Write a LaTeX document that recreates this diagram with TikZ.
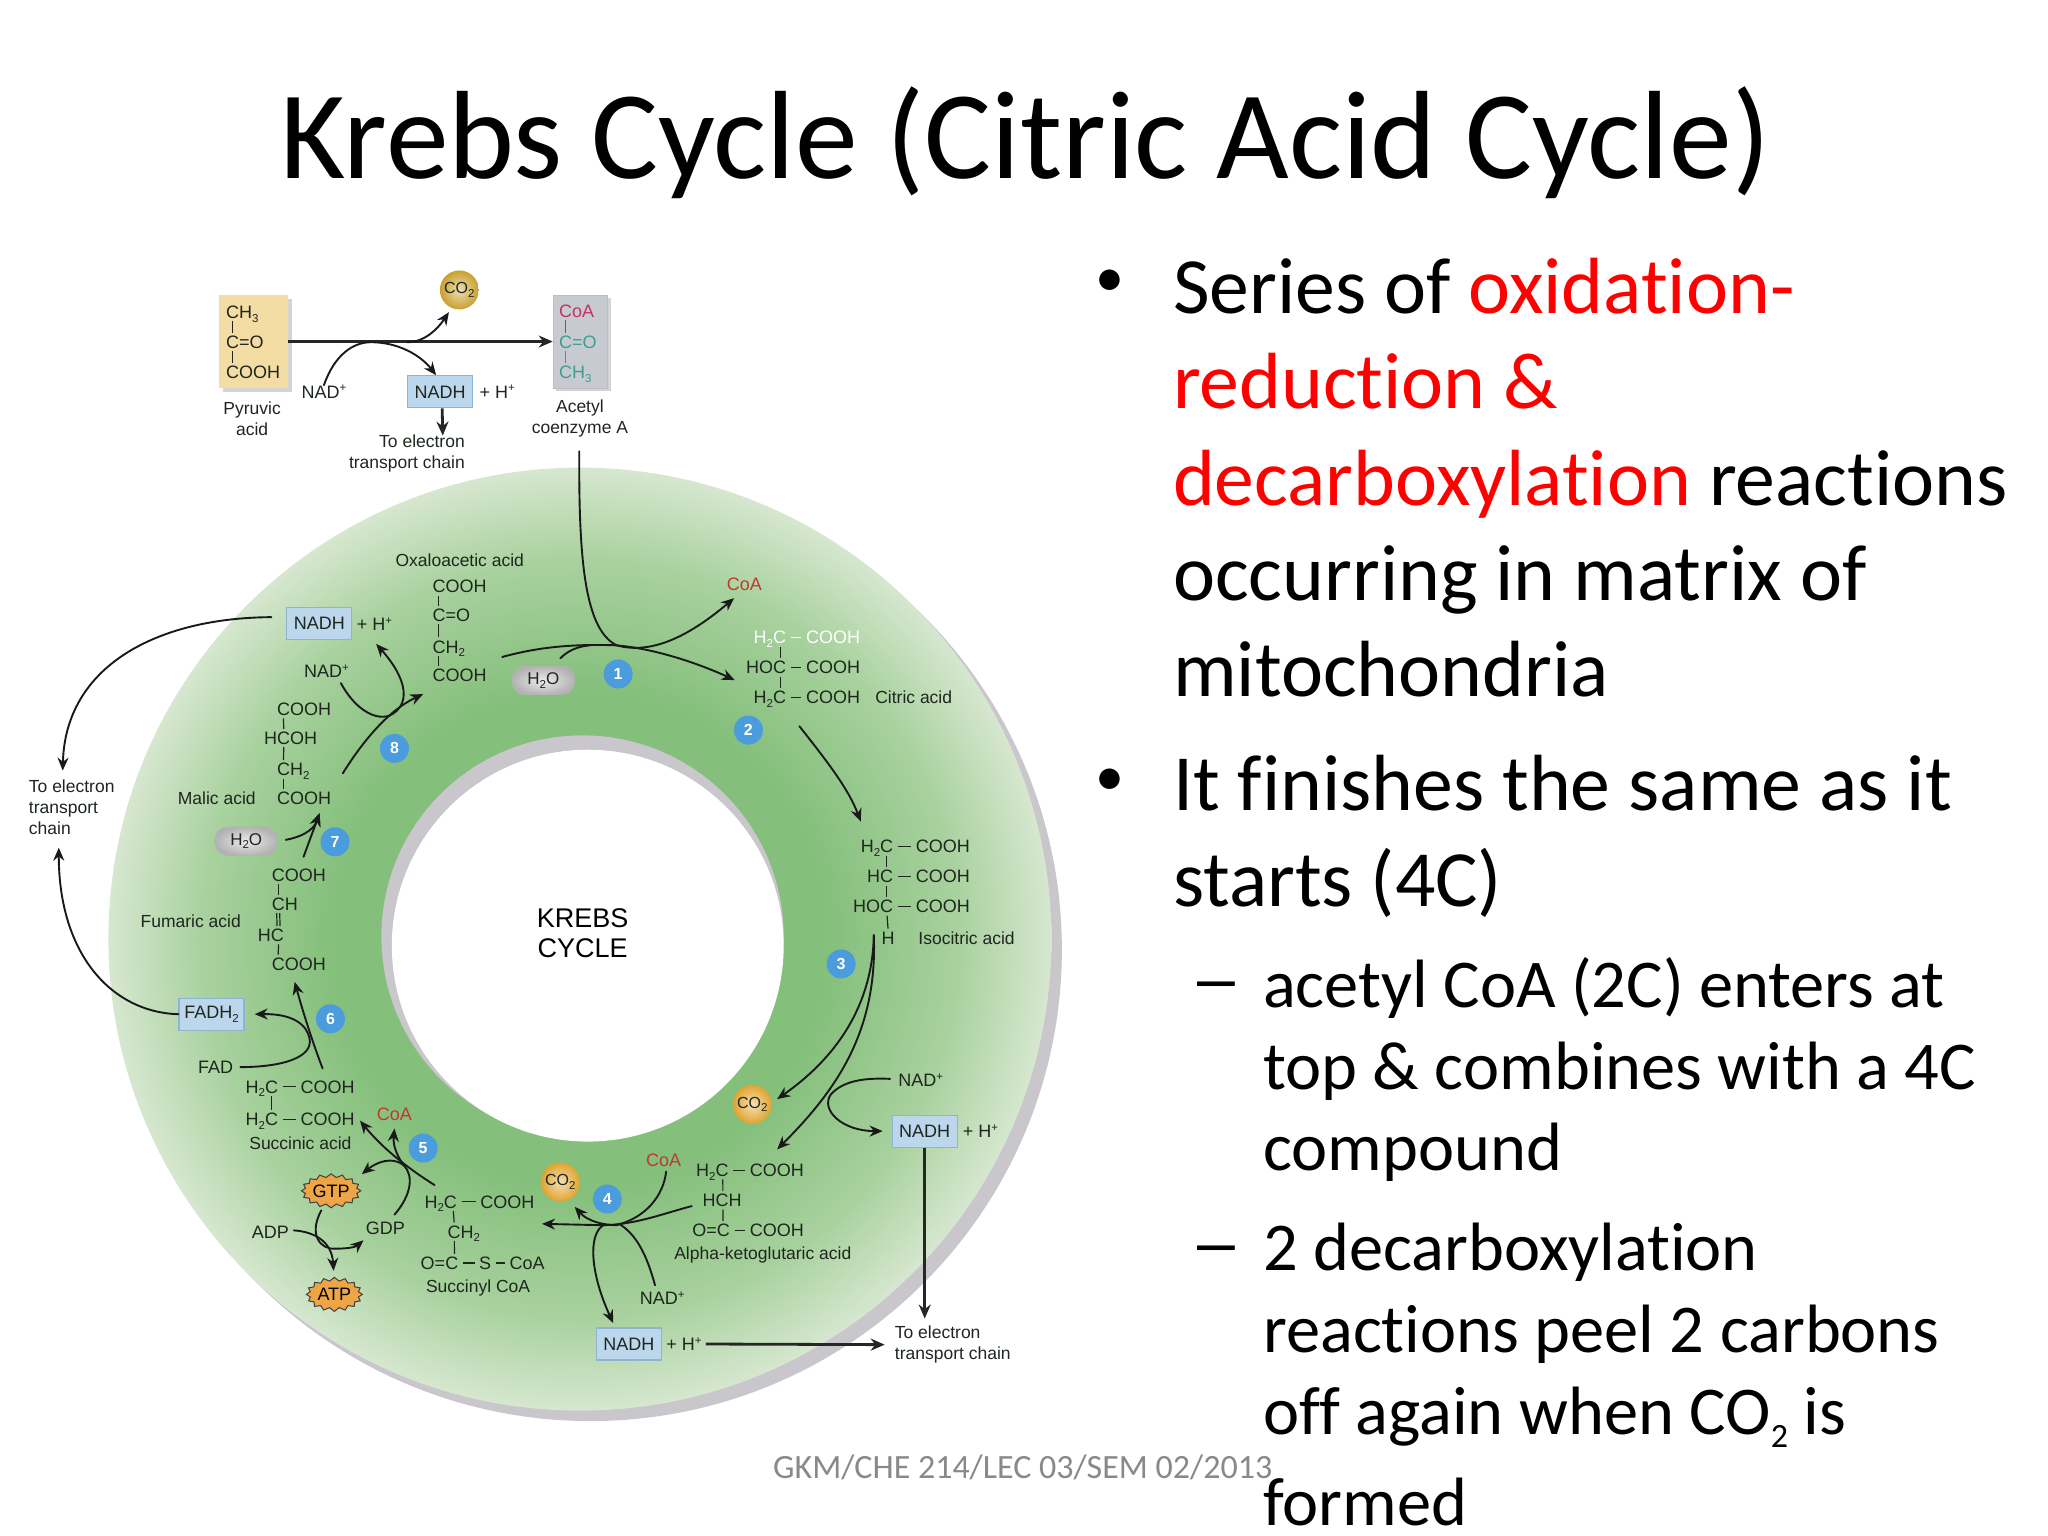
\documentclass[tikz,border=0pt]{standalone}
\usepackage{fontspec}
\setmainfont{Carlito}[Ligatures=NoCommon]
\newfontfamily\dia{Liberation Sans}
\usetikzlibrary{arrows.meta,shapes.symbols,shapes.geometric}
\definecolor{ringdark}{HTML}{84BF7B}
\definecolor{ringmid}{HTML}{A8D19E}
\definecolor{ringlight}{HTML}{D6E7CF}
\definecolor{ringgrey}{HTML}{C9C6CC}
\definecolor{dtext}{HTML}{1E261E}
\definecolor{boxblue}{HTML}{BCD6EC}
\definecolor{boxedge}{HTML}{8FB4D2}
\definecolor{numblue}{HTML}{4A9CDC}
\definecolor{coared}{HTML}{C0392B}
\definecolor{crimson}{HTML}{C2326A}
\definecolor{teal2}{HTML}{3E9E8C}
\definecolor{wheat2}{HTML}{F3DDA4}
\definecolor{greybox}{HTML}{C8CAD2}
\definecolor{shadow2}{HTML}{D4D4D4}
\definecolor{burst}{HTML}{EDA548}
\definecolor{foot}{HTML}{898989}
\definecolor{bodyred}{HTML}{FF0000}
\definecolor{goldA}{HTML}{C9A02E}
\definecolor{goldB}{HTML}{E0A42E}
\pgfdeclareradialshading{ringshade}{\pgfpoint{0bp}{0bp}}{color(0bp)=(ringdark); color(13bp)=(ringdark); color(20bp)=(ringmid); color(25bp)=(ringlight); color(50bp)=(ringlight)}
\newcommand\tsb[1]{{\fontsize{11.5}{11.5}\selectfont\raisebox{-3.5pt}{#1}}}
\newcommand\tsp[1]{{\fontsize{11.5}{11.5}\selectfont\raisebox{6.5pt}{#1}}}
\newcommand\chemf{\dia\fontsize{18}{20}\selectfont}
\newcommand\labf{\dia\fontsize{17.5}{21}\selectfont}
\newcommand\vbW[3][6.5pt]{\draw[bondl] ([xshift=#1]#2.south west) -- ([xshift=#1]#3.north west);}
\newcommand\vbE[3][-6.5pt]{\draw[bondl] ([xshift=#1]#2.south east) -- ([xshift=#1]#3.north east);}
\newcommand\hb[2]{\draw[bondl,shorten >=4.5pt,shorten <=4.5pt] (#1.east) -- (#2.west);}
\tikzset{
  x=1.30612pt,y=-1.30612pt,
  chemW/.style={font=\chemf,text=dtext,inner sep=0pt,anchor=west,text height=13pt,text depth=0pt},
  chemE/.style={font=\chemf,text=dtext,inner sep=0pt,anchor=east,text height=13pt,text depth=0pt},
  lab/.style={font=\labf,text=dtext,inner sep=0pt,align=center},
  bondl/.style={line width=1.2pt,draw=dtext,shorten >=2.5pt,shorten <=2.5pt},
  flow/.style={line width=1.9pt,draw=black!90,line cap=round},
  arr/.style={flow,-{Stealth[length=13pt,width=11pt]}},
  thickarr/.style={line width=2.8pt,draw=black!85,-{Stealth[length=14pt,width=12pt]}},
  bluebox/.style={draw=boxedge,line width=1.2pt,fill=boxblue,minimum width=65pt,minimum height=32pt,inner sep=0pt,font=\chemf,text=dtext},
  numb/.style={circle,fill=numblue,minimum size=29pt,inner sep=0pt,text=white,font=\dia\bfseries\fontsize{16}{16}\selectfont},
  goldball/.style={circle,minimum size=39pt,inner sep=0pt,shading=radial,inner color=#1!35!white,outer color=#1,font=\dia\fontsize{16}{16}\selectfont,text=dtext},
  pill/.style={rectangle,rounded corners=13pt,minimum width=63pt,minimum height=29pt,inner sep=0pt,shading=radial,inner color=white!92!black,outer color=black!30,font=\dia\fontsize{17}{17}\selectfont,text=dtext},
  burstn/.style={starburst,starburst points=16,starburst point height=3.5pt,random starburst=0,draw=black!75,line width=1pt,fill=burst,inner sep=0pt,minimum width=56pt,minimum height=34pt,font=\dia\fontsize{18}{18}\selectfont,text=black},
  bodyl/.style={inner sep=0pt,anchor=base west,font=\fontsize{79.7}{80}\selectfont,text=black},
  subl/.style={inner sep=0pt,anchor=base west,font=\fontsize{68.4}{69}\selectfont,text=black},
  bullt/.style={inner sep=0pt,anchor=base,font=\fontsize{58}{58}\selectfont,text=black},
  dasht/.style={inner sep=0pt,anchor=base west,font=\dia\fontsize{68}{68}\selectfont,text=black},
}
\begin{document}
\begin{tikzpicture}
\useasboundingbox (0,0) rectangle (1568,1176);
% ring
\fill[ringgrey] (452,727) circle [radius=361];
\shade[shading=ringshade] (444,719) circle [radius=361];
\fill[ringgrey] (446,717) circle [radius=154];
\fill[white] (450,724) circle [radius=150];
% title
\node[inner sep=0pt,anchor=base,font=\fontsize{125.6}{126}\selectfont] (title) at (785,137) {Krebs Cycle (Citric Acid Cycle)};
% top section
\fill[shadow2] (171,229) rectangle (223.5,300);
\node[rectangle,fill=wheat2,minimum width=68.6pt,minimum height=92.7pt,inner sep=0pt] (pyrbox) at (194.2,261.5) {};
\fill[shadow2] (426,228) rectangle (467.6,299);
\node[rectangle,fill=greybox,draw=black!25,minimum width=54pt,minimum height=92.7pt,inner sep=0pt] (coabox) at (444,261.5) {};
\node[chemW] (pyr1) at (173,239) {CH\tsb{3}};
\node[chemW] (pyr2) at (173,262) {C=O};
\node[chemW] (pyr3) at (173,285) {COOH};
\vbW{pyr1}{pyr2}\vbW{pyr2}{pyr3}
\node[chemW,text=crimson] (coa1) at (428,238) {CoA};
\node[chemW,text=teal2] (coa2) at (428,262) {C=O};
\node[chemW,text=teal2] (coa3) at (428,285) {CH\tsb{3}};
\draw[bondl,draw=crimson] ([xshift=6.5pt]coa1.south west) -- ([xshift=6.5pt]coa2.north west);
\draw[bondl,draw=teal2] ([xshift=6.5pt]coa2.south west) -- ([xshift=6.5pt]coa3.north west);
\node[lab] (pyrl) at (193,320.5) {Pyruvic\\acid};
\node[lab] (acetyl) at (444,320.5) {Acetyl\\coenzyme A};
\node[goldball=goldA] (co2a) at (351.7,222) {CO\tsb{2}};
\node[chemW,anchor=center] (nadA) at (248,300) {NAD\tsp{+}};
\node[bluebox] (nadhA) at (337,300) {NADH};
\node[chemW] (hpA) at (367,300) {+ H\tsp{+}};
\node[lab,anchor=east,align=right] (etT) at (356,347.5) {To electron\\transport chain};
% ring labels etc.
\node[goldball=goldB] (co2b) at (576,845.5) {CO\tsb{2}};
\node[goldball=goldB] (co2c) at (429,905) {CO\tsb{2}};
\node[numb] (n1) at (473.3,516) {1};
\node[numb] (n2) at (573,559) {2};
\node[numb] (n3) at (644,738) {3};
\node[numb] (n4) at (465,918) {4};
\node[numb] (n5) at (324,879) {5};
\node[numb] (n6) at (253,780) {6};
\node[numb] (n7) at (256.5,644.5) {7};
\node[numb] (n8) at (302,573) {8};
\node[pill] (h2oA) at (416,521) {H\tsb{2}O};
\node[pill] (h2oB) at (188.5,644) {H\tsb{2}O};
\node[font=\dia\fontsize{27}{30}\selectfont,align=center,text=black,inner sep=0pt] (krebs) at (446,714.5) {KREBS\\CYCLE};
% oxaloacetic
\node[lab] (oxal) at (352,429) {Oxaloacetic acid};
\node[chemW] (oxa1) at (331,449) {COOH};
\node[chemW] (oxa2) at (331,471) {C=O};
\node[chemW] (oxa3) at (331,495) {CH\tsb{2}};
\node[chemW] (oxa4) at (331,517) {COOH};
\vbW{oxa1}{oxa2}\vbW{oxa2}{oxa3}\vbW{oxa3}{oxa4}
% citric
\node[chemE,text=white] (cit1a) at (602,488) {H\tsb{2}C};
\node[chemW,text=white] (cit1b) at (617,488) {COOH};
\node[chemE] (cit2a) at (602,511) {HOC};
\node[chemW] (cit2b) at (617,511) {COOH};
\node[chemE] (cit3a) at (602,534) {H\tsb{2}C};
\node[chemW] (cit3b) at (617,534) {COOH};
\draw[bondl,draw=white,shorten >=4.5pt,shorten <=4.5pt] (cit1a.east) -- (cit1b.west);
\hb{cit2a}{cit2b}\hb{cit3a}{cit3b}
\draw[bondl] ([xshift=-5.5pt]cit1a.south east) -- ([xshift=-5.5pt]cit2a.north east);
\draw[bondl] ([xshift=-5.5pt]cit2a.south east) -- ([xshift=-5.5pt]cit3a.north east);
\node[lab,anchor=west] (citl) at (670,534) {Citric acid};
% isocitric
\node[chemE] (iso1a) at (684,648) {H\tsb{2}C};
\node[chemW] (iso1b) at (701,648) {COOH};
\node[chemE] (iso2a) at (684,671) {HC};
\node[chemW] (iso2b) at (701,671) {COOH};
\node[chemE] (iso3a) at (684,694) {HOC};
\node[chemW] (iso3b) at (701,694) {COOH};
\node[chemE] (iso4) at (685,718) {H};
\hb{iso1a}{iso1b}\hb{iso2a}{iso2b}\hb{iso3a}{iso3b}
\vbE{iso1a}{iso2a}\vbE{iso2a}{iso3a}\vbE{iso3a}{iso4}
\node[lab,anchor=west] (isol) at (703,718) {Isocitric acid};
% alpha
\node[chemE] (al1a) at (558,896) {H\tsb{2}C};
\node[chemW] (al1b) at (574,896) {COOH};
\node[chemE] (al2) at (568,919) {HCH};
\node[chemE] (al3a) at (559,942) {O=C};
\node[chemW] (al3b) at (574,942) {COOH};
\hb{al1a}{al1b}\hb{al3a}{al3b}
\draw[bondl] ([xshift=-6pt]al1a.south east) -- ([xshift=-19pt]al2.north east);
\draw[bondl] ([xshift=-19pt]al2.south east) -- ([xshift=-7pt]al3a.north east);
\node[lab] (alphal) at (584,961) {Alpha-ketoglutaric acid};
% succinyl
\node[chemE] (sy1a) at (350,920) {H\tsb{2}C};
\node[chemW] (sy1b) at (367.6,920) {COOH};
\node[chemW] (sy2) at (342.5,943) {CH\tsb{2}};
\node[chemE] (sy3a) at (351,967) {O=C};
\node[chemW,anchor=center] (sy3b) at (371.5,967) {S};
\node[chemW] (sy3c) at (390,967) {CoA};
\hb{sy1a}{sy1b}\hb{sy3a}{sy3b}\hb{sy3b}{sy3c}
\draw[bondl] ([xshift=-4pt]sy1a.south east) -- ([xshift=7pt]sy2.north west);
\draw[bondl] ([xshift=7pt]sy2.south west) -- ([xshift=-4pt]sy3a.north east);
\node[lab] (syl) at (366,986) {Succinyl CoA};
% succinic
\node[chemE] (su1a) at (213,832) {H\tsb{2}C};
\node[chemW] (su1b) at (230,832) {COOH};
\node[chemE] (su2a) at (213,857) {H\tsb{2}C};
\node[chemW] (su2b) at (230,857) {COOH};
\hb{su1a}{su1b}\hb{su2a}{su2b}
\vbE{su1a}{su2a}
\node[lab] (sul) at (230,875.5) {Succinic acid};
% fumaric
\node[chemW] (fu1) at (208,670) {COOH};
\node[chemW] (fu2) at (208,692) {CH};
\node[chemE] (fu3) at (217.5,716) {HC};
\node[chemW] (fu4) at (208,738) {COOH};
\vbW{fu1}{fu2}
\draw[bondl] ([xshift=5pt]fu2.south west) -- ([xshift=-7pt]fu3.north east);
\draw[bondl] ([xshift=8pt]fu2.south west) -- ([xshift=-4pt]fu3.north east);
\draw[bondl] ([xshift=-5.5pt]fu3.south east) -- ([xshift=6.5pt]fu4.north west);
\node[lab] (ful) at (146,705) {Fumaric acid};
% malic
\node[chemW] (ma1) at (212,543) {COOH};
\node[chemW] (ma2) at (202,565) {HCOH};
\node[chemW] (ma3) at (212,589) {CH\tsb{2}};
\node[chemW] (ma4) at (212,611) {COOH};
\draw[bondl] ([xshift=6.5pt]ma1.south west) -- ([xshift=20pt]ma2.north west);
\draw[bondl] ([xshift=20pt]ma2.south west) -- ([xshift=6.5pt]ma3.north west);
\vbW{ma3}{ma4}
\node[lab] (mal) at (166,611) {Malic acid};
% cofactors
\node[bluebox] (nadhT) at (244.5,477.5) {NADH};
\node[chemW] (hpT) at (273,478) {+ H\tsp{+}};
\node[chemW,anchor=center] (nadT) at (250,514) {NAD\tsp{+}};
\node[bluebox] (fadh) at (162,776.5) {FADH\tsb{2}};
\node[chemW,anchor=center] (fad) at (165,817) {FAD};
\node[chemW,text=coared,anchor=center] (coaT) at (570,447) {CoA};
\node[chemW,text=coared,anchor=center] (coaS) at (508,888) {CoA};
\node[chemW,text=coared,anchor=center] (coaU) at (302,853) {CoA};
\node[chemW,anchor=center] (nadR) at (705,827) {NAD\tsp{+}};
\node[bluebox] (nadhR) at (708,866) {NADH};
\node[chemW] (hpR) at (737,866) {+ H\tsp{+}};
\node[chemW,anchor=center] (nadB) at (507,994) {NAD\tsp{+}};
\node[bluebox] (nadhB) at (481.5,1029) {NADH};
\node[chemW] (hpB) at (510,1029) {+ H\tsp{+}};
\node[lab,anchor=west,align=left] (etR) at (685,1029.5) {To electron\\transport chain};
\node[lab,anchor=west,align=left] (etL) at (22,618) {To electron\\transport\\chain};
\node[burstn] (gtp) at (253.5,911.7) {GTP};
\node[burstn] (atp) at (256,991) {ATP};
\node[chemW,anchor=center] (adp) at (207,943) {ADP};
\node[chemW,anchor=center] (gdp) at (295,940) {GDP};
% junctions
\coordinate (jn4) at (472,938);
\coordinate (jn5) at (309,892);
% top connectors
\draw[thickarr] (pyrbox.east) -- (coabox.west);
\draw[arr] ([shift={(-40,40)}]co2a.center) .. controls (325,262) and (335,252) .. ([shift={(-8,17)}]co2a.center);
\draw[arr] (nadA.north) .. controls (256,272) and (270,262) .. (284,262) .. controls (305,262) and (322,272) .. ([xshift=-4pt]nadhA.north);
\draw[thickarr] ([xshift=2pt]nadhA.south) -- ([shift={(-17,-14)}]etT.east);
\draw[arr] ([shift={(-0.5,25)}]acetyl.center) .. controls (443,430) and (448,482) .. (472,494) .. controls (500,502) and (530,485) .. ([shift={(-8,11)}]coaT.center);
% citric side
\draw[arr] ([shift={(53.5,-14)}]oxa4.west) .. controls (410,496) and (435,493) .. (470,494) .. controls (500,496) and (535,508) .. ([shift={(-39.5,9.7)}]cit2a.east);
\draw[flow] ([shift={(13,-17)}]h2oA.center) .. controls (435,498) and (442,495) .. (452,494);
\draw[arr] ([shift={(10,22)}]cit3a.east) .. controls (635,585) and (650,605) .. ([shift={(-25,-19)}]iso1a.east);
\draw[arr] ([shift={(-16,-2)}]iso4.east) .. controls (668,770) and (640,810) .. ([shift={(19,-4)}]co2b.center);
\draw[arr] ([shift={(-16,-2)}]iso4.east) .. controls (672,790) and (640,835) .. ([shift={(21,-16)}]al1b.west);
\draw[arr] ([shift={(-23.5,-1)}]nadR.center) .. controls (660,825) and (645,828) .. (636,838) .. controls (628,850) and (645,866) .. ([xshift=-9pt]nadhR.west);
\draw[thickarr] (nadhR.south) -- ([shift={(23,-20)}]etR.west);
\draw[thickarr] ([xshift=4pt]hpB.east) -- ([xshift=-10pt]etR.west);
% step 4
\draw[arr] ([shift={(-38.4,4.4)}]al2.east) .. controls (505,930) and (485,938) .. (460,938) -- ([shift={(47.4,17)}]sy1b.west);
\draw[flow] ([shift={(2,9)}]coaS.center) .. controls (508,915) and (495,932) .. (jn4);
\draw[arr] (jn4) .. controls (462,938) and (450,935) .. ([shift={(11,19)}]co2c.center);
\draw[flow] ([shift={(-5.5,-10)}]nadB.center) .. controls (495,960) and (487,945) .. (474,937);
\draw[arr] ([xshift=-13pt]jn4) .. controls (450,945) and (452,975) .. ([shift={(-12,-16)}]nadhB.center);
% step 5
\draw[arr] ([shift={(-17.3,-12.7)}]sy1a.east) .. controls (310,893) and (292,878) .. ([shift={(45.6,1)}]su2b.west);
\draw[arr] (jn5) .. controls (302,882) and (301,875) .. ([shift={(0,11)}]coaU.center);
\draw[arr] ([shift={(7,-10)}]gdp.center) .. controls (315,915) and (317,900) .. (jn5) .. controls (300,885) and (288,890) .. ([shift={(23.5,-12.7)}]gtp.center);
\draw[arr] ([shift={(18,-1)}]adp.center) .. controls (240,943) and (254,950) .. ([shift={(-0.6,-18)}]atp.center);
\draw[arr] ([shift={(-7.5,15)}]gtp.center) .. controls (236,945) and (245,957) .. (257,956) .. controls (265,956) and (272,955) .. ([shift={(-16.7,9.6)}]gdp.center);
% step 6
\draw[arr] ([shift={(19,0)}]fad.center) .. controls (215,817) and (240,810) .. (237,795) .. controls (235,785) and (225,776) .. ([xshift=10pt]fadh.east);
\draw[arr] ([shift={(17,-14)}]su1b.west) .. controls (240,800) and (232,775) .. ([shift={(17.6,13.7)}]fu4.west);
\draw[arr] (fadh.west) .. controls (85,775) and (45,730) .. ([shift={(23,31)}]etL.west);
\draw[arr] ([shift={(-36.7,-5)}]nadhT.center) .. controls (120,473) and (50,510) .. ([shift={(26,-28)}]etL.west);
% step 7,8
\draw[arr] ([shift={(24.4,-14)}]fu1.west) -- ([shift={(32.7,11.6)}]ma4.west);
\draw[arr] ([shift={(30.3,-1)}]h2oB.center) .. controls (230,641) and (240,636) .. ([shift={(32.7,11.6)}]ma4.west);
\draw[arr] ([shift={(50.5,-19)}]ma4.west) .. controls (275,572) and (295,545) .. ([shift={(-7,14.4)}]oxa4.west);
\draw[arr] ([shift={(11,9)}]nadT.center) .. controls (270,540) and (285,552) .. (298,548) .. controls (315,540) and (312,520) .. ([shift={(15,15)}]hpT.west);
% body text
\node[bullt] (b1) at (850,227) {•};
\node[bodyl] (l1) at (898,240) {Series of \textcolor{bodyred}{oxidation-}};
\node[bodyl,text=bodyred] (l2) at (898,313) {reduction \&};
\node[bodyl] (l3) at (898,387) {\textcolor{bodyred}{decarboxylation} reactions};
\node[bodyl] (l4) at (898,460) {occurring in matrix of};
\node[bodyl] (l5) at (898,533) {mitochondria};
\node[bullt] (b2) at (850,609) {•};
\node[bodyl] (l6) at (898,620.5) {It finishes the same as it};
\node[bodyl] (l7) at (898,694) {starts (4C)};
\node[dasht] (d1) at (917,767) {–};
\node[subl] (s1) at (967,771) {acetyl CoA (2C) enters at};
\node[subl] (s2) at (967,834) {top \& combines with a 4C};
\node[subl] (s3) at (967,896.5) {compound};
\node[dasht] (d2) at (917,969) {–};
\node[subl] (s4) at (967,972.5) {2 decarboxylation};
\node[subl] (s5) at (967,1035.5) {reactions peel 2 carbons};
\node[subl] (s6) at (967,1098) {off again when CO{\fontsize{34}{34}\selectfont\raisebox{-13pt}{2}} is};
\node[subl,text depth=0pt] (s7) at (967,1168) {formed};
\node[inner sep=0pt,anchor=base,text=foot,font=\fontsize{34}{34}\selectfont] (footer) at (783,1132) {GKM/CHE 214/LEC 03/SEM 02/2013};
\end{tikzpicture}
\end{document}
